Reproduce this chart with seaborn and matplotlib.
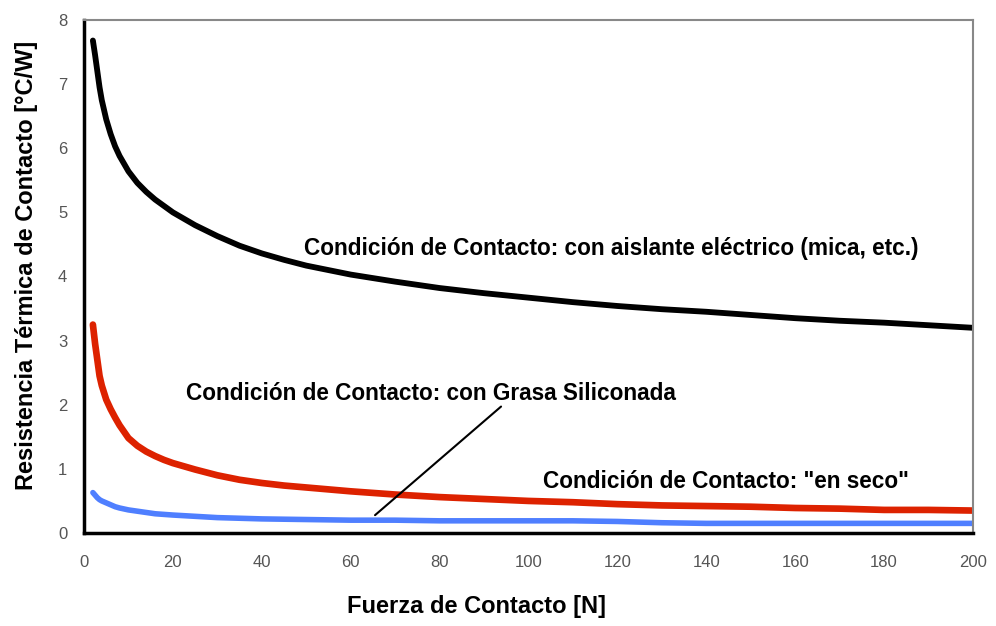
import matplotlib
matplotlib.use("Agg")
import matplotlib.pyplot as plt
import seaborn as sns
import pandas as pd

fuerza = [2, 2.5, 3, 3.5, 4, 5, 6, 7, 8, 10, 12, 14, 16, 18, 20, 25, 30, 35, 40,
          45, 50, 60, 70, 80, 90, 100, 110, 120, 130, 140, 150, 160, 170, 180,
          190, 200]
mica = [7.68, 7.45, 7.2, 6.95, 6.75, 6.45, 6.22, 6.03, 5.88, 5.64, 5.46, 5.32,
        5.2, 5.1, 5.0, 4.8, 4.63, 4.48, 4.36, 4.26, 4.17, 4.03, 3.92, 3.82, 3.74,
        3.67, 3.6, 3.54, 3.49, 3.45, 3.4, 3.35, 3.31, 3.28, 3.24, 3.2]
seco = [3.25, 2.95, 2.7, 2.45, 2.3, 2.08, 1.93, 1.8, 1.68, 1.48, 1.36, 1.27,
        1.2, 1.14, 1.09, 0.99, 0.9, 0.83, 0.78, 0.74, 0.71, 0.65, 0.6, 0.56,
        0.53, 0.5, 0.48, 0.45, 0.43, 0.42, 0.41, 0.39, 0.38, 0.36, 0.36, 0.35]
grasa = [0.63, 0.59, 0.55, 0.52, 0.5, 0.47, 0.44, 0.41, 0.39, 0.36, 0.34, 0.32,
         0.3, 0.29, 0.28, 0.26, 0.24, 0.23, 0.22, 0.215, 0.21, 0.2, 0.2, 0.19,
         0.19, 0.19, 0.19, 0.18, 0.16, 0.15, 0.15, 0.15, 0.15, 0.15, 0.15, 0.15]

etiqueta_mica = "Condición de Contacto: con aislante eléctrico (mica, etc.)"
etiqueta_grasa = "Condición de Contacto: con Grasa Siliconada"
etiqueta_seco = "Condición de Contacto: \"en seco\""
xlabel = "Fuerza de Contacto [N]"
ylabel = "Resistencia Térmica de Contacto [°C/W]"
xticks = [0, 20, 40, 60, 80, 100, 120, 140, 160, 180, 200]
yticks = [0, 1, 2, 3, 4, 5, 6, 7, 8]

sns.set_style("white")
plt.rcParams['font.family'] = ['Liberation Sans', 'DejaVu Sans']
plt.rcParams['text.color'] = 'black'

W, H = 996, 626
fig = plt.figure(figsize=(W / 100, H / 100), dpi=100)
ax = fig.add_axes([84 / W, 1 - 533 / H, (973 - 84) / W, (533 - 20) / H])

df = pd.DataFrame({"x": fuerza, "mica": mica, "seco": seco, "grasa": grasa})
sns.lineplot(data=df, x="x", y="mica", color="black", lw=4.2, ax=ax)
sns.lineplot(data=df, x="x", y="seco", color="#dd2200", lw=4.8, ax=ax)
sns.lineplot(data=df, x="x", y="grasa", color="#4f7fff", lw=4.0, ax=ax)

ax.set_xlim(0, 200)
ax.set_ylim(0, 8)
ax.set_xticks(xticks)
ax.set_yticks(yticks)
ax.tick_params(axis='both', direction='inout', length=8, width=2, color='black',
               labelsize=12, labelcolor='#555555')
ax.tick_params(axis='x', pad=12)
ax.tick_params(axis='y', pad=8)
for s in ['left', 'bottom']:
    ax.spines[s].set_color('black')
    ax.spines[s].set_linewidth(2.5)
for s in ['top', 'right']:
    ax.spines[s].set_color('#888888')
    ax.spines[s].set_linewidth(1.5)

ax.set_xlabel("")
ax.set_ylabel("")
fig.text(476 / W, 1 - 607 / H, xlabel, ha='center', va='center',
         fontsize=17, fontweight='bold')
fig.text(27 / W, 1 - 265 / H, ylabel, ha='center', va='center', rotation=90,
         fontsize=17, fontweight='bold')

for txt, xc, yc in [(etiqueta_mica, 611, 249), (etiqueta_grasa, 431, 393),
                    (etiqueta_seco, 726, 482)]:
    fig.text(xc / W, 1 - yc / H, txt, ha='center', va='center', fontsize=16.3,
             fontweight='bold')

ax.annotate("", xy=(65, 0.25), xytext=(94.3, 2.0),
            arrowprops=dict(arrowstyle='-', color='black', lw=1.5))

fig.savefig("out.png", dpi=100)
